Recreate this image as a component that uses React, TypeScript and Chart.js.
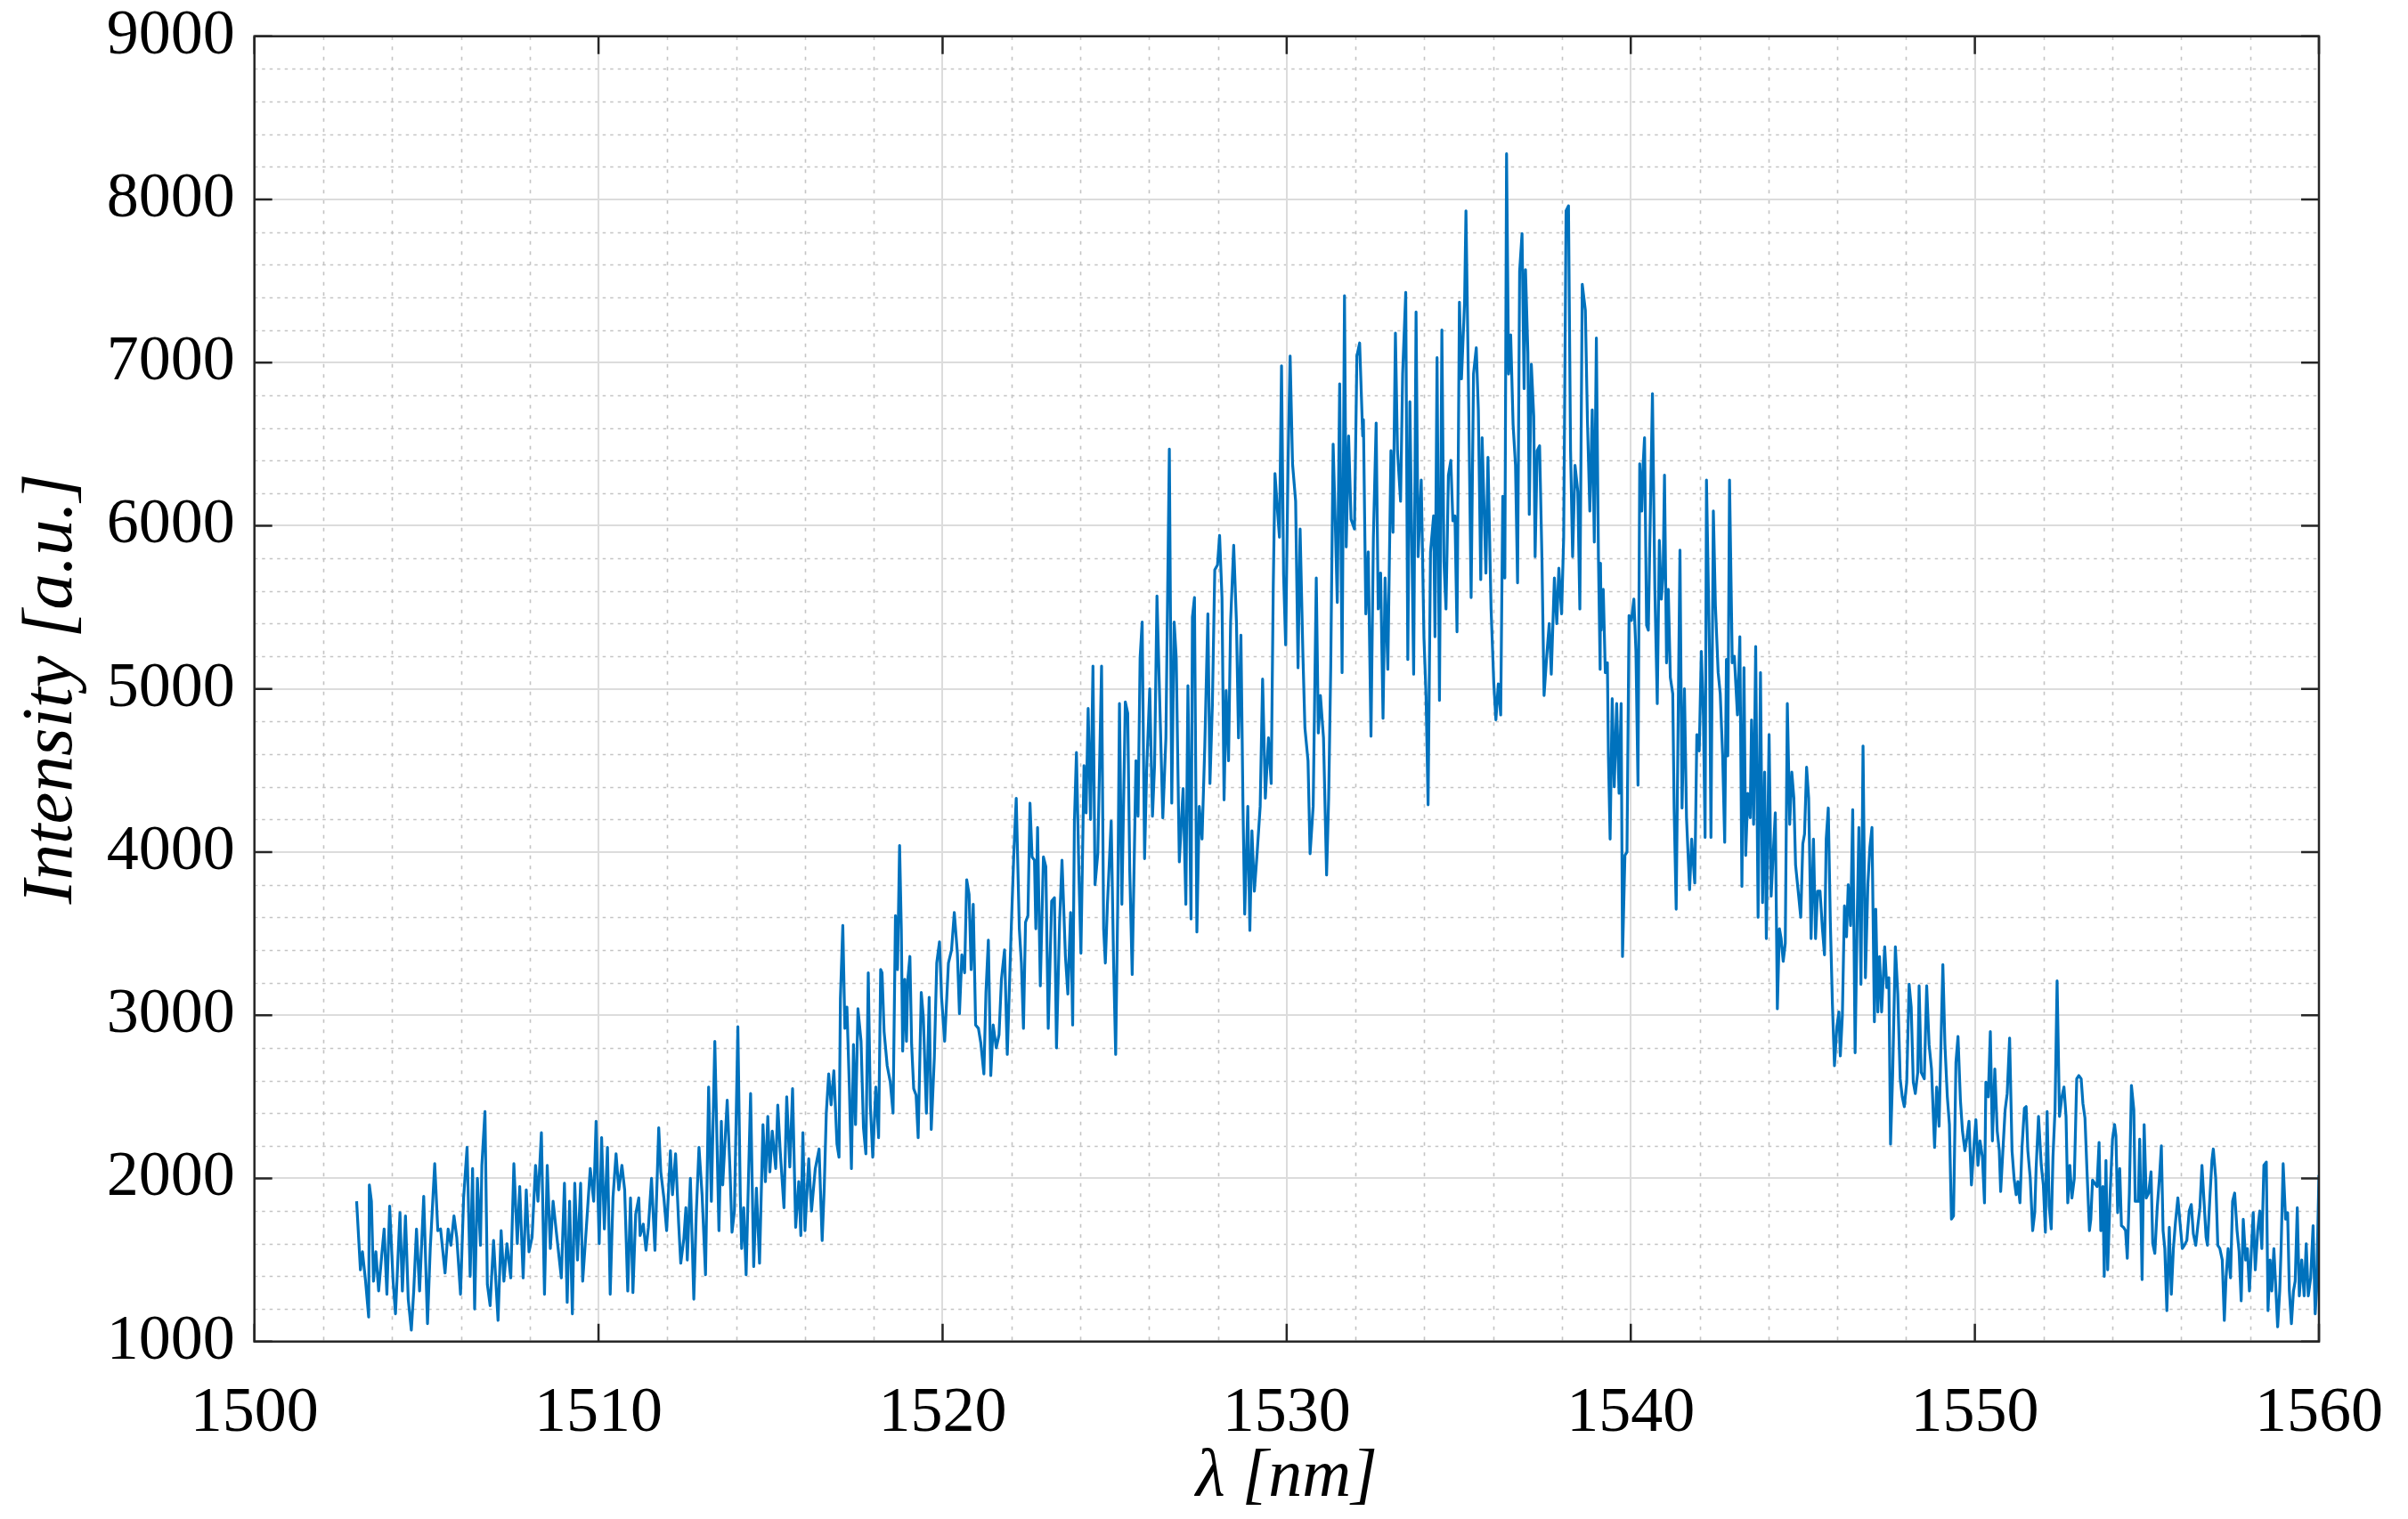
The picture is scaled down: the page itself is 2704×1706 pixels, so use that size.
import React, { useEffect, useRef } from "react";
import { Chart, registerables } from "chart.js";

Chart.register(...registerables);

// ---- axis tick values ----
const xTickValues = [1500, 1510, 1520, 1530, 1540, 1550, 1560];
const yTickValues = [1000, 2000, 3000, 4000, 5000, 6000, 7000, 8000, 9000];
const xMinorValues = [1502, 1504, 1506, 1508, 1512, 1514, 1516, 1518, 1522, 1524, 1526, 1528, 1532, 1534, 1536, 1538, 1542, 1544, 1546, 1548, 1552, 1554, 1556, 1558];
const yMinorValues = [1200, 1400, 1600, 1800, 2200, 2400, 2600, 2800, 3200, 3400, 3600, 3800, 4200, 4400, 4600, 4800, 5200, 5400, 5600, 5800, 6200, 6400, 6600, 6800, 7200, 7400, 7600, 7800, 8200, 8400, 8600, 8800];

// ---- spectrum, [wavelength nm, intensity a.u.] ----
const spectrum1503to1511: [number, number][] = [
  [1502.97,1860],[1503.08,1440],[1503.14,1550],[1503.23,1370],[1503.32,1150],[1503.34,1960],[1503.40,1860],[1503.46,1370],[1503.53,1550],[1503.61,1310],
  [1503.70,1530],[1503.77,1690],[1503.85,1290],[1503.93,1830],[1504.03,1370],[1504.10,1170],[1504.23,1790],[1504.30,1310],[1504.39,1770],[1504.47,1260],
  [1504.56,1070],[1504.63,1310],[1504.71,1690],[1504.80,1310],[1504.92,1890],[1505.03,1110],[1505.11,1570],[1505.24,2090],[1505.33,1680],[1505.41,1690],
  [1505.54,1420],[1505.63,1690],[1505.71,1590],[1505.80,1770],[1505.88,1640],[1505.99,1290],[1506.08,1880],[1506.18,2190],[1506.27,1400],[1506.34,2060],
  [1506.40,1200],[1506.48,2000],[1506.57,1590],[1506.61,2080],[1506.70,2410],[1506.77,1350],[1506.85,1220],[1506.95,1620],[1507.08,1130],[1507.17,1680],
  [1507.25,1370],[1507.34,1600],[1507.45,1390],[1507.54,2090],[1507.64,1600],[1507.71,1950],[1507.81,1390],[1507.90,1930],[1507.98,1550],[1508.07,1640],
  [1508.17,2080],[1508.24,1860],[1508.34,2280],[1508.43,1290],[1508.51,2080],[1508.60,1570],[1508.68,1860],[1508.79,1640],[1508.92,1390],[1509.01,1970],
  [1509.09,1240],[1509.16,1860],[1509.24,1170],[1509.31,1970],[1509.39,1500],[1509.48,1970],[1509.54,1370],[1509.65,1710],[1509.76,2060],[1509.86,1860],
  [1509.93,2350],[1510.02,1600],[1510.09,2250],[1510.17,1690],[1510.26,2190],[1510.34,1290],[1510.42,1880],[1510.51,2150],[1510.59,1930],[1510.68,2080],
  [1510.76,1930],[1510.85,1310],[1510.93,1880],
];

const spectrum1511to1518: [number, number][] = [
  [1511.00,1300],[1511.08,1780],[1511.17,1880],[1511.21,1650],[1511.30,1720],[1511.38,1560],[1511.45,1700],[1511.54,2000],[1511.64,1560],[1511.75,2310],
  [1511.81,2040],[1511.90,1880],[1511.98,1680],[1512.09,2170],[1512.15,1900],[1512.24,2150],[1512.33,1720],[1512.39,1480],[1512.48,1630],[1512.54,1820],
  [1512.58,1500],[1512.67,2000],[1512.77,1260],[1512.84,1780],[1512.92,2190],[1513.01,1900],[1513.11,1410],[1513.20,2560],[1513.28,1860],[1513.38,2840],
  [1513.50,1680],[1513.57,2350],[1513.61,1960],[1513.74,2480],[1513.82,2060],[1513.88,1670],[1513.95,1800],[1514.05,2930],[1514.12,1900],[1514.16,1570],
  [1514.22,1820],[1514.29,1410],[1514.42,2520],[1514.51,1460],[1514.59,1940],[1514.68,1480],[1514.78,2330],[1514.85,1980],[1514.92,2380],[1514.98,2040],
  [1515.05,2290],[1515.15,2060],[1515.21,2450],[1515.28,2170],[1515.39,1820],[1515.47,2500],[1515.56,2070],[1515.64,2550],[1515.73,1700],[1515.82,1980],
  [1515.88,1650],[1515.94,2280],[1516.00,1680],[1516.11,2120],[1516.19,1800],[1516.30,2060],[1516.41,2180],[1516.50,1620],[1516.56,1940],[1516.62,2400],
  [1516.69,2640],[1516.76,2450],[1516.84,2660],[1516.93,2210],[1516.99,2130],[1517.03,3100],[1517.10,3550],[1517.16,2920],[1517.22,3050],[1517.29,2560],
  [1517.35,2060],[1517.41,2820],[1517.47,2330],[1517.54,3040],[1517.63,2840],[1517.70,2310],[1517.77,2150],[1517.84,3260],[1517.90,2450],[1517.97,2130],
  [1518.06,2560],[1518.14,2250],[1518.20,3280],
];

const spectrum1518to1525: [number, number][] = [
  [1518.24,3260],[1518.30,2900],[1518.39,2690],[1518.48,2590],[1518.56,2400],[1518.63,3610],[1518.69,3280],[1518.75,4040],[1518.80,3530],[1518.84,2780],
  [1518.90,3220],[1518.95,2840],[1518.99,3220],[1519.05,3360],[1519.10,2820],[1519.16,2550],[1519.23,2510],[1519.29,2250],[1519.38,3140],[1519.44,2990],
  [1519.53,2400],[1519.61,3110],[1519.67,2300],[1519.76,2740],[1519.83,3320],[1519.91,3450],[1519.97,3110],[1520.06,2840],[1520.17,3320],[1520.26,3400],
  [1520.34,3630],[1520.43,3380],[1520.49,3010],[1520.56,3370],[1520.64,3260],[1520.70,3830],[1520.77,3740],[1520.83,3280],[1520.89,3680],[1520.96,2940],
  [1521.04,2920],[1521.11,2830],[1521.20,2640],[1521.26,3140],[1521.33,3460],[1521.40,2630],[1521.47,2940],[1521.56,2800],[1521.64,2880],[1521.71,3220],
  [1521.80,3400],[1521.88,2760],[1521.99,3500],[1522.07,3990],[1522.14,4330],[1522.23,3530],[1522.29,3320],[1522.35,2920],[1522.41,3570],[1522.48,3610],
  [1522.54,4300],[1522.60,3970],[1522.67,3950],[1522.71,3530],[1522.76,4150],[1522.84,3180],[1522.93,3970],[1523.00,3910],[1523.07,2920],[1523.17,3700],
  [1523.25,3720],[1523.31,2800],[1523.40,3570],[1523.47,3950],[1523.57,3360],[1523.64,3130],[1523.72,3630],[1523.78,2940],[1523.83,4180],[1523.89,4610],
  [1523.96,3880],[1524.02,3380],[1524.11,4530],[1524.17,4240],[1524.23,4880],[1524.30,4200],[1524.37,5140],[1524.43,3800],[1524.51,3990],[1524.62,5140],
  [1524.68,3530],[1524.73,3320],[1524.79,3680],[1524.90,4190],[1524.97,3320],[1525.03,2760],[1525.09,3680],[1525.14,4910],
];

const spectrum1525to1532: [number, number][] = [
  [1525.21,3680],[1525.31,4920],[1525.38,4850],[1525.44,3880],[1525.51,3250],[1525.62,4560],[1525.68,4220],[1525.74,5190],[1525.80,5410],[1525.87,3960],
  [1525.93,4500],[1526.02,5000],[1526.10,4220],[1526.16,4530],[1526.23,5570],[1526.32,4850],[1526.40,4210],[1526.49,4700],[1526.59,6470],[1526.66,4300],
  [1526.73,5410],[1526.79,5190],[1526.88,3940],[1526.99,4390],[1527.07,3680],[1527.13,5020],[1527.22,3590],[1527.26,5440],[1527.32,5560],[1527.39,3510],
  [1527.46,4280],[1527.54,4080],[1527.62,4650],[1527.71,5460],[1527.77,4420],[1527.84,4900],[1527.91,5730],[1527.99,5760],[1528.05,5940],[1528.12,5560],
  [1528.18,4320],[1528.24,4990],[1528.31,4560],[1528.37,5410],[1528.46,5880],[1528.54,5410],[1528.60,4700],[1528.67,5330],[1528.73,4280],[1528.78,3620],
  [1528.87,4280],[1528.93,3520],[1528.99,4130],[1529.06,3760],[1529.14,3990],[1529.23,4280],[1529.30,5060],[1529.38,4330],[1529.47,4700],[1529.55,4420],
  [1529.61,5630],[1529.66,6320],[1529.73,6100],[1529.79,5930],[1529.85,6980],[1529.91,5700],[1529.97,5270],[1530.04,6380],[1530.10,7040],[1530.17,6380],
  [1530.26,6150],[1530.33,5130],[1530.39,5980],[1530.47,5220],[1530.53,4760],[1530.62,4560],[1530.68,3990],[1530.77,4280],[1530.86,5680],[1530.92,4730],
  [1530.98,4960],[1531.07,4700],[1531.16,3860],[1531.22,4330],[1531.28,5130],[1531.35,6500],[1531.41,6040],[1531.47,5530],[1531.54,6870],[1531.61,5100],
  [1531.68,7410],[1531.73,5870],[1531.80,6550],[1531.87,6040],[1531.97,5980],[1532.04,7040],[1532.12,7120],[1532.21,6550],
];

const spectrum1532to1539: [number, number][] = [
  [1532.23,6650],[1532.30,5460],[1532.37,5840],[1532.45,4710],[1532.52,5930],[1532.60,6630],[1532.66,5490],[1532.73,5710],[1532.80,4820],[1532.86,5680],
  [1532.94,5120],[1533.03,6460],[1533.09,5960],[1533.16,7180],[1533.22,6460],[1533.31,6150],[1533.37,6930],[1533.46,7430],[1533.52,5180],[1533.58,6760],
  [1533.69,5090],[1533.76,7310],[1533.82,5810],[1533.91,6280],[1533.99,5310],[1534.05,4960],[1534.11,4290],[1534.18,5840],[1534.27,6060],[1534.31,5320],
  [1534.37,7030],[1534.44,4930],[1534.51,7200],[1534.57,5780],[1534.63,5490],[1534.70,6310],[1534.77,6400],[1534.83,6030],[1534.89,6060],[1534.95,5350],
  [1535.02,7370],[1535.08,6900],[1535.17,7370],[1535.21,7930],[1535.28,6900],[1535.36,5560],[1535.43,6930],[1535.51,7090],[1535.57,6710],[1535.64,5670],
  [1535.68,6540],[1535.79,5710],[1535.85,6420],[1535.94,5490],[1536.02,5030],[1536.08,4810],[1536.15,5030],[1536.22,4840],[1536.28,6180],[1536.34,5680],
  [1536.39,8280],[1536.45,6930],[1536.51,7170],[1536.58,6620],[1536.65,6370],[1536.71,5650],[1536.77,7560],[1536.84,7790],[1536.90,6840],[1536.94,7570],
  [1537.01,7060],[1537.05,6070],[1537.11,6990],[1537.18,6670],[1537.22,5810],[1537.28,6460],[1537.35,6490],[1537.42,5780],[1537.48,4960],[1537.55,5180],
  [1537.63,5400],[1537.69,5090],[1537.78,5680],[1537.85,5400],[1537.91,5740],[1537.99,5460],[1538.05,5930],[1538.12,7930],[1538.19,7960],[1538.25,6460],
  [1538.31,5810],[1538.38,6370],[1538.46,6210],[1538.52,5490],[1538.59,7480],[1538.68,7320],[1538.74,6650],[1538.81,6090],[1538.88,6710],[1538.94,5900],
  [1539.00,7150],[1539.06,5810],[1539.11,5120],
];

const spectrum1539to1546: [number, number][] = [
  [1539.12,5770],[1539.14,5360],[1539.20,5610],[1539.26,5100],[1539.32,5160],[1539.35,4590],[1539.40,4080],[1539.46,4940],[1539.52,4400],[1539.59,4910],
  [1539.66,4360],[1539.72,4910],[1539.76,3360],[1539.83,3980],[1539.89,4000],[1539.95,5450],[1540.02,5420],[1540.09,5550],[1540.15,5230],[1540.21,4410],
  [1540.26,6380],[1540.32,6090],[1540.36,6380],[1540.40,6540],[1540.46,5390],[1540.51,5360],[1540.57,6090],[1540.63,6810],[1540.70,5610],[1540.77,4910],
  [1540.83,5910],[1540.89,5550],[1540.94,5710],[1540.98,6310],[1541.04,5160],[1541.09,5610],[1541.15,5070],[1541.22,4970],[1541.26,4270],[1541.32,3650],
  [1541.39,5070],[1541.43,5850],[1541.49,4270],[1541.56,5000],[1541.62,4210],[1541.71,3770],[1541.77,4080],[1541.86,3810],[1541.92,4720],[1541.99,4620],
  [1542.05,5230],[1542.11,4840],[1542.16,4090],[1542.20,6280],[1542.29,5200],[1542.33,4090],[1542.40,6090],[1542.46,5510],[1542.54,5100],[1542.60,4970],
  [1542.67,4590],[1542.73,4060],[1542.78,5180],[1542.82,4590],[1542.87,6280],[1542.95,5160],[1543.01,5200],[1543.10,4840],[1543.17,5320],[1543.23,3790],
  [1543.29,5130],[1543.34,3980],[1543.40,4360],[1543.47,4210],[1543.51,4810],[1543.57,4170],[1543.63,5260],[1543.70,3600],[1543.77,5100],[1543.83,3690],
  [1543.89,4490],[1543.94,3470],[1544.02,4720],[1544.08,3730],[1544.13,3950],[1544.20,4240],[1544.26,3040],[1544.32,3530],[1544.37,3470],[1544.43,3330],
  [1544.49,3440],[1544.55,4910],[1544.62,4170],[1544.68,4490],[1544.74,4330],[1544.79,3920],[1544.88,3730],[1544.94,3600],[1545.00,4050],[1545.05,4110],
  [1545.11,4520],[1545.17,4330],[1545.24,3470],[1545.31,4080],[1545.37,3470],[1545.43,3760],[1545.50,3760],[1545.57,3530],[1545.63,3370],[1545.68,4080],
  [1545.74,4270],[1545.80,3570],[1545.86,3070],[1545.92,2690],[1545.99,2930],[1546.05,3020],
];

const spectrum1546to1553: [number, number][] = [
  [1546.09,2750],[1546.15,3000],[1546.21,3670],[1546.27,3480],[1546.32,3800],[1546.39,3550],[1546.45,4260],[1546.52,2770],[1546.58,3590],[1546.63,4150],
  [1546.69,3190],[1546.75,4650],[1546.82,3230],[1546.89,3800],[1546.95,4030],[1547.01,4150],[1547.08,2960],[1547.12,3650],[1547.18,3020],[1547.23,3360],
  [1547.29,3020],[1547.38,3420],[1547.44,3170],[1547.50,3230],[1547.55,2210],[1547.61,2630],[1547.69,3420],[1547.76,3130],[1547.83,2610],[1547.89,2500],
  [1547.95,2440],[1548.02,2590],[1548.09,3190],[1548.15,3050],[1548.21,2590],[1548.27,2520],[1548.34,2650],[1548.38,3180],[1548.44,2650],[1548.53,2610],
  [1548.60,3180],[1548.67,2820],[1548.74,2670],[1548.83,2190],[1548.89,2560],[1548.96,2320],[1549.03,2960],[1549.07,3310],[1549.13,2820],[1549.20,2500],
  [1549.26,2330],[1549.32,1750],[1549.38,1770],[1549.45,2710],[1549.51,2870],[1549.58,2480],[1549.64,2290],[1549.71,2170],[1549.77,2250],[1549.83,2350],
  [1549.90,1960],[1549.97,2190],[1550.03,2360],[1550.09,2080],[1550.15,2230],[1550.22,2130],[1550.28,1850],[1550.32,2590],[1550.39,2500],[1550.45,2900],
  [1550.51,2230],[1550.58,2670],[1550.65,2290],[1550.71,2170],[1550.75,1920],[1550.82,2190],[1550.88,2420],[1550.94,2520],[1551.01,2860],[1551.08,2170],
  [1551.14,2000],[1551.20,1900],[1551.25,1980],[1551.31,1850],[1551.37,2190],[1551.44,2430],[1551.49,2440],[1551.54,2170],[1551.61,2000],[1551.68,1680],
  [1551.74,1790],[1551.78,2060],[1551.85,2380],[1551.93,2080],[1551.99,1960],[1552.05,1670],[1552.10,2410],[1552.16,1830],[1552.22,1690],[1552.27,2130],
  [1552.33,2420],[1552.39,3210],[1552.46,2380],[1552.53,2500],[1552.59,2560],[1552.65,2380],[1552.70,1850],[1552.76,2080],[1552.82,1880],[1552.89,2000],
  [1552.96,2610],[1553.02,2630],
];

const spectrum1553to1560: [number, number][] = [
  [1553.09,2610],[1553.14,2460],[1553.20,2370],[1553.26,2040],[1553.33,1680],[1553.37,1750],[1553.42,1990],[1553.48,1970],[1553.55,1950],[1553.61,2220],
  [1553.66,1680],[1553.72,1950],[1553.76,1400],[1553.81,2110],[1553.86,1440],[1553.93,1900],[1554.00,2240],[1554.06,2330],[1554.10,2260],[1554.15,1790],
  [1554.21,2060],[1554.26,1710],[1554.32,1700],[1554.38,1680],[1554.43,1510],[1554.49,1910],[1554.55,2570],[1554.62,2420],[1554.66,1860],[1554.75,1860],
  [1554.79,2240],[1554.86,1380],[1554.92,2330],[1554.98,1880],[1555.05,1910],[1555.12,2040],[1555.17,1600],[1555.23,1540],[1555.30,1820],[1555.37,2020],
  [1555.42,2200],[1555.47,1680],[1555.52,1570],[1555.58,1190],[1555.65,1700],[1555.71,1290],[1555.77,1570],[1555.83,1730],[1555.90,1880],[1555.97,1710],
  [1556.03,1570],[1556.09,1590],[1556.16,1620],[1556.23,1800],[1556.29,1840],[1556.35,1660],[1556.42,1590],[1556.48,1710],[1556.54,1820],[1556.60,2080],
  [1556.66,1860],[1556.72,1640],[1556.76,1590],[1556.83,1880],[1556.89,2110],[1556.93,2180],[1557.00,2000],[1557.06,1590],[1557.12,1570],[1557.19,1500],
  [1557.25,1130],[1557.30,1390],[1557.36,1570],[1557.43,1390],[1557.49,1860],[1557.55,1910],[1557.62,1680],[1557.68,1550],[1557.74,1250],[1557.80,1750],
  [1557.87,1500],[1557.92,1570],[1557.98,1310],[1558.03,1530],[1558.09,1790],[1558.15,1440],[1558.22,1680],[1558.28,1800],[1558.34,1570],[1558.40,2080],
  [1558.47,2100],[1558.52,1190],[1558.58,1500],[1558.63,1310],[1558.69,1570],[1558.75,1310],[1558.80,1090],[1558.86,1310],[1558.90,1570],[1558.96,2090],
  [1559.03,1750],[1559.09,1790],[1559.14,1310],[1559.20,1110],[1559.26,1310],[1559.31,1370],[1559.37,1820],[1559.43,1280],[1559.50,1500],[1559.57,1280],
  [1559.63,1600],[1559.69,1280],[1559.76,1390],[1559.83,1710],[1559.89,1170],[1559.93,1310],[1560.00,2020],
];

const spectrumSegments = [
  spectrum1503to1511, spectrum1511to1518, spectrum1518to1525, spectrum1525to1532,
  spectrum1532to1539, spectrum1539to1546, spectrum1546to1553, spectrum1553to1560,
];

const xTitle = "λ [nm]";
const yTitle = "Intensity [a.u.]";

// ---- styling ----
const SERIF = "'Liberation Serif', 'Times New Roman', serif";
const LINE_COLOR = "#0072BD";
const AXIS_COLOR = "#262626";
const MAJOR_GRID = "#dcdcdc";
const MINOR_GRID = "#c4c4c4";

const matlabAxes = {
  id: "matlabAxes",
  beforeDatasetsDraw(chart: any) {
    const { ctx, chartArea, scales } = chart;
    const { left, right, top, bottom } = chartArea;
    const x = scales.x;
    const y = scales.y;
    ctx.save();
    ctx.lineWidth = 1.6;
    ctx.strokeStyle = MINOR_GRID;
    ctx.setLineDash([4, 7.5]);
    for (const v of xMinorValues) {
      const px = Math.round(x.getPixelForValue(v)) + 0.5;
      ctx.beginPath();
      ctx.moveTo(px, top);
      ctx.lineTo(px, bottom);
      ctx.stroke();
    }
    ctx.setLineDash([3.5, 5]);
    for (const v of yMinorValues) {
      const py = Math.round(y.getPixelForValue(v)) + 0.5;
      ctx.beginPath();
      ctx.moveTo(left, py);
      ctx.lineTo(right, py);
      ctx.stroke();
    }
    ctx.setLineDash([]);
    ctx.strokeStyle = MAJOR_GRID;
    ctx.lineWidth = 2;
    for (const v of xTickValues) {
      const px = Math.round(x.getPixelForValue(v));
      ctx.beginPath();
      ctx.moveTo(px, top);
      ctx.lineTo(px, bottom);
      ctx.stroke();
    }
    for (const v of yTickValues) {
      const py = Math.round(y.getPixelForValue(v));
      ctx.beginPath();
      ctx.moveTo(left, py);
      ctx.lineTo(right, py);
      ctx.stroke();
    }
    ctx.restore();
  },
  afterDatasetsDraw(chart: any) {
    const { ctx, chartArea, scales } = chart;
    const { left, right, top, bottom } = chartArea;
    const x = scales.x;
    const y = scales.y;
    const tick = 20;
    ctx.save();
    ctx.strokeStyle = AXIS_COLOR;
    ctx.lineWidth = 2.5;
    ctx.setLineDash([]);
    ctx.strokeRect(left, top, right - left, bottom - top);
    ctx.beginPath();
    for (const v of xTickValues) {
      const px = x.getPixelForValue(v);
      ctx.moveTo(px, bottom);
      ctx.lineTo(px, bottom - tick);
      ctx.moveTo(px, top);
      ctx.lineTo(px, top + tick);
    }
    for (const v of yTickValues) {
      const py = y.getPixelForValue(v);
      ctx.moveTo(left, py);
      ctx.lineTo(left + tick, py);
      ctx.moveTo(right, py);
      ctx.lineTo(right - tick, py);
    }
    ctx.stroke();
    ctx.restore();
  },
};

const clearScalePadding = (s: any) => {
  s.paddingTop = 0;
  s.paddingBottom = 0;
  s.paddingLeft = 0;
  s.paddingRight = 0;
};

export default function App() {
  const canvasRef = useRef<HTMLCanvasElement | null>(null);

  useEffect(() => {
    document.body.style.margin = "0";
    const canvas = canvasRef.current;
    if (!canvas) return;
    const points = spectrumSegments.flat().map(([wl, val]) => ({ x: wl, y: val }));

    const chart = new Chart(canvas, {
      type: "line",
      data: {
        datasets: [
          {
            data: points,
            borderColor: LINE_COLOR,
            borderWidth: 3.2,
            borderJoinStyle: "round",
            pointRadius: 0,
            fill: false,
            tension: 0,
          },
        ],
      },
      options: {
        animation: false,
        responsive: true,
        maintainAspectRatio: false,
        devicePixelRatio: 1,
        layout: { padding: { top: 40.7, right: 100, bottom: 0, left: 0 } },
        plugins: {
          legend: { display: false },
          tooltip: { enabled: false },
        },
        scales: {
          x: {
            type: "linear",
            position: "bottom",
            min: 1500,
            max: 1560,
            grid: { display: false, drawTicks: false, tickLength: 0 },
            border: { display: false },
            afterBuildTicks: (s: any) => {
              s.ticks = xTickValues.map((v) => ({ value: v }));
            },
            afterFit: (s: any) => {
              s.height = 1706 - 1506.7;
              clearScalePadding(s);
            },
            ticks: {
              color: "#000",
              padding: 45,
              maxRotation: 0,
              autoSkip: false,
              font: { family: SERIF, size: 72, lineHeight: 1 },
              callback: (v: any) => String(v),
            },
            title: {
              display: true,
              text: xTitle,
              color: "#000",
              font: { family: SERIF, size: 76, style: "italic", lineHeight: 1.2 },
              padding: { top: 0, bottom: 0 },
            },
          },
          y: {
            type: "linear",
            position: "left",
            min: 1000,
            max: 9000,
            grid: { display: false, drawTicks: false, tickLength: 0 },
            border: { display: false },
            afterBuildTicks: (s: any) => {
              s.ticks = yTickValues.map((v) => ({ value: v }));
            },
            afterFit: (s: any) => {
              s.width = 285.7;
              clearScalePadding(s);
            },
            ticks: {
              color: "#000",
              padding: 22,
              autoSkip: false,
              font: { family: SERIF, size: 72, lineHeight: 1 },
              callback: (v: any) => String(v),
            },
            title: {
              display: true,
              text: yTitle,
              color: "#000",
              font: { family: SERIF, size: 81, style: "italic", lineHeight: 1.2 },
              padding: { top: 10, bottom: 0 },
            },
          },
        },
      },
      plugins: [matlabAxes],
    });

    return () => chart.destroy();
  }, []);

  return (
    <div style={{ position: "fixed", left: 0, top: 0, width: 2704, height: 1706, background: "#fff" }}>
      <canvas ref={canvasRef} />
    </div>
  );
}
